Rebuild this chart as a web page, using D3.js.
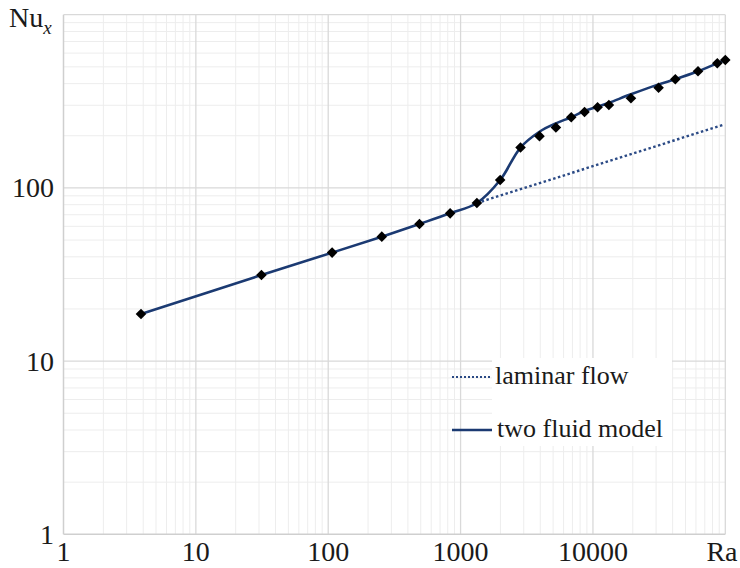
<!DOCTYPE html>
<html>
<head>
<meta charset="utf-8">
<script src="https://cdn.jsdelivr.net/npm/d3@7"></script>
<style>
  body { margin: 0; background: #fff; }
</style>
</head>
<body>
<svg id="chart" width="740" height="568"></svg>
<script>
// measured points (Ra, Nu_x)
const pointRa = [3.85, 31.3, 107, 254, 489, 834, 1328, 1991, 2837, 3946, 5250, 6855, 8640, 10840, 13200, 19370, 31330, 41900, 62200, 87000, 100000];
const pointNu = [18.7, 31.4, 42.3, 52.3, 61.9, 71.3, 81.8, 111, 171, 199, 223, 256, 274, 292, 301, 329, 379, 424, 471, 524, 547];

// two fluid model curve
const modelRa = [3.85, 31.3, 107, 254, 489, 834, 1328, 1991, 2837, 3946, 5250, 6855, 8640, 10840, 13200, 19370, 31330, 41900, 62200, 87000, 100000];
const modelNu = [18.7, 31.4, 42.3, 52.3, 61.9, 71.3, 81.8, 111, 171, 211, 236, 256, 278, 294, 310, 347, 396, 424, 471, 524, 547];

// laminar flow extension
const laminarRa = [1328, 96000];
const laminarNu = [81.8, 231];

const xTicks = [1, 10, 100, 1000, 10000];
const yTicks = [1, 10, 100];
const legendLabels = ["laminar flow", "two fluid model"];

const serif = "'Liberation Serif', 'Times New Roman', 'DejaVu Serif', serif";

const svg = d3.select("#chart")
  .attr("font-family", serif);
const mLeft = 63.5, mRight = 725.3, mTop = 14.7, mBottom = 534.3;

const x = d3.scaleLog().domain([1, 100000]).range([mLeft, mRight]);
const y = d3.scaleLog().domain([1, 1000]).range([mBottom, mTop]);

// minor grid
const minorX = [], minorY = [];
for (let p = 0; p < 5; p++) for (let m = 2; m <= 9; m++) minorX.push(m * Math.pow(10, p));
for (let p = 0; p < 3; p++) for (let m = 2; m <= 9; m++) minorY.push(m * Math.pow(10, p));

const grid = svg.append("g");
grid.selectAll("line.mx").data(minorX).join("line")
  .attr("class", "mx")
  .attr("x1", d => x(d)).attr("x2", d => x(d))
  .attr("y1", mTop).attr("y2", mBottom)
  .attr("stroke", "#ededed").attr("stroke-width", 1);
grid.selectAll("line.my").data(minorY).join("line")
  .attr("class", "my")
  .attr("x1", mLeft).attr("x2", mRight)
  .attr("y1", d => y(d)).attr("y2", d => y(d))
  .attr("stroke", "#ededed").attr("stroke-width", 1);

// major grid
grid.selectAll("line.Mx").data([10, 100, 1000, 10000, 100000]).join("line")
  .attr("class", "Mx")
  .attr("x1", d => x(d)).attr("x2", d => x(d))
  .attr("y1", mTop).attr("y2", mBottom)
  .attr("stroke", "#d9d9d9").attr("stroke-width", 1.3);
grid.selectAll("line.My").data([10, 100, 1000]).join("line")
  .attr("class", "My")
  .attr("x1", mLeft).attr("x2", mRight)
  .attr("y1", d => y(d)).attr("y2", d => y(d))
  .attr("stroke", "#d9d9d9").attr("stroke-width", 1.3);

// axis lines
svg.append("line").attr("x1", mLeft).attr("x2", mLeft).attr("y1", mTop).attr("y2", mBottom)
  .attr("stroke", "#cfcfcf").attr("stroke-width", 1.5);
svg.append("line").attr("x1", mLeft).attr("x2", mRight).attr("y1", mBottom).attr("y2", mBottom)
  .attr("stroke", "#cfcfcf").attr("stroke-width", 1.5);

// tick labels
svg.selectAll("text.xt").data(xTicks).join("text")
  .attr("class", "xt")
  .attr("x", d => x(d)).attr("y", 561)
  .attr("text-anchor", "middle")
  .attr("font-size", 28)
  .attr("fill", "#1a1a1a")
  .text(d => d);
svg.append("text").attr("x", 722).attr("y", 561).attr("text-anchor", "middle")
  .attr("font-size", 28).attr("fill", "#1a1a1a").text("Ra");

svg.selectAll("text.yt").data(yTicks).join("text")
  .attr("class", "yt")
  .attr("x", 54).attr("y", d => y(d) + 9.5)
  .attr("text-anchor", "end")
  .attr("font-size", 28)
  .attr("fill", "#1a1a1a")
  .text(d => d);
const nu = svg.append("text").attr("x", 9).attr("y", 27).attr("font-size", 28).attr("fill", "#1a1a1a");
nu.append("tspan").text("Nu");
nu.append("tspan").attr("font-style", "italic").attr("font-size", 19).attr("dy", 7).text("x");

// legend
svg.append("rect").attr("x", 492).attr("y", 358).attr("width", 180).attr("height", 88).attr("fill", "#fff");

const line = d3.line()
  .x(d => x(d[0]))
  .y(d => y(d[1]));

// laminar dotted
svg.append("path")
  .datum(d3.zip(laminarRa, laminarNu))
  .attr("d", line)
  .attr("fill", "none")
  .attr("stroke", "#2b4a85")
  .attr("stroke-width", 2.4)
  .attr("stroke-dasharray", "2.5,2.5");

// model curve
svg.append("path")
  .datum(d3.zip(modelRa, modelNu))
  .attr("d", line.curve(d3.curveCatmullRom.alpha(0.5)))
  .attr("fill", "none")
  .attr("stroke", "#1b3a72")
  .attr("stroke-width", 2.6);

// markers
svg.selectAll("path.pt").data(d3.zip(pointRa, pointNu)).join("path")
  .attr("class", "pt")
  .attr("d", d3.symbol(d3.symbolSquare, 56))
  .attr("transform", d => `translate(${x(d[0])},${y(d[1])}) rotate(45)`)
  .attr("fill", "#000");

// legend samples
svg.append("line").attr("x1", 452).attr("x2", 490).attr("y1", 377).attr("y2", 377)
  .attr("stroke", "#2b4a85").attr("stroke-width", 2).attr("stroke-dasharray", "2,2");
svg.append("line").attr("x1", 452).attr("x2", 492).attr("y1", 430).attr("y2", 430)
  .attr("stroke", "#1b3a72").attr("stroke-width", 2.4);
svg.selectAll("text.lg").data(legendLabels).join("text")
  .attr("class", "lg")
  .attr("x", (d, i) => i ? 497 : 495)
  .attr("y", (d, i) => i ? 437 : 384)
  .attr("font-size", 26)
  .attr("fill", "#1a1a1a")
  .text(d => d);
</script>
</body>
</html>
